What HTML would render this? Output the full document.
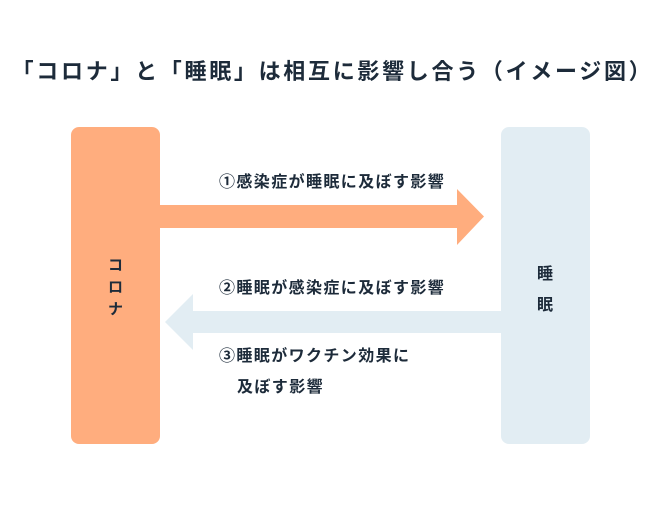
<!DOCTYPE html>
<html><head><meta charset="utf-8"><style>
body{margin:0;width:662px;height:514px;background:#fff;position:relative;overflow:hidden;font-family:"Liberation Sans","Noto Sans CJK JP",sans-serif;color:#1d2b3a;font-weight:bold}
.a{position:absolute;white-space:nowrap}
</style></head><body>
<div class="a" style="left:0;width:662px;top:57px;text-align:center;font-size:22px;line-height:30px;letter-spacing:2.7px;text-indent:3px">「コロナ」と「睡眠」は相互に影響し合う（イメージ図）</div>
<svg class="a" style="left:0;top:0" width="662" height="514">
<rect x="71" y="127" width="89" height="317" rx="8" fill="#ffad7e"/>
<rect x="501" y="127" width="89" height="317" rx="8" fill="#e2edf3"/>
<polygon points="160,205 457,205 457,189 484,216.5 457,245 457,228 160,228" fill="#ffad7e"/>
<polygon points="501,311 193,311 193,294 165,322 193,350 193,333 501,333" fill="#e2edf3"/>
</svg>
<div class="a" style="left:108px;top:255px;font-size:15px;line-height:22px;width:16px;white-space:normal">コ<br>ロ<br>ナ</div>
<div class="a" style="left:537px;top:259px;font-size:16px;line-height:31px;width:18px;white-space:normal">睡<br>眠</div>
<div class="a" style="left:219px;top:172px;font-size:16px;line-height:22px;letter-spacing:1.4px">①感染症が睡眠に及ぼす影響</div>
<div class="a" style="left:219px;top:278px;font-size:16px;line-height:22px;letter-spacing:1.4px">②睡眠が感染症に及ぼす影響</div>
<div class="a" style="left:219px;top:341px;font-size:16px;line-height:31px;letter-spacing:1.4px">③睡眠がワクチン効果に<br><span style="padding-left:18px">及ぼす影響</span></div>
</body></html>
